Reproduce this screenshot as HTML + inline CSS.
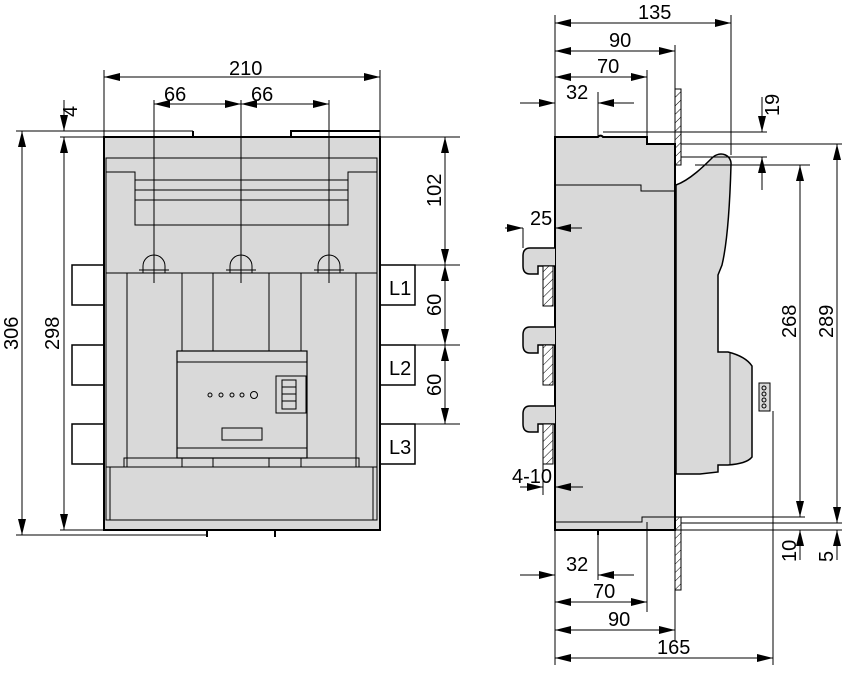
<!DOCTYPE html>
<html><head><meta charset="utf-8"><style>
html,body{margin:0;padding:0;background:#fff;}
svg{display:block;}
text{font-family:"Liberation Sans Narrow","Liberation Sans",sans-serif;font-size:20px;fill:#000;}
</style></head><body>
<svg width="850" height="673" viewBox="0 0 850 673" xmlns="http://www.w3.org/2000/svg">
<defs>
<marker id="a" viewBox="0 0 16 8" refX="16" refY="4" markerWidth="16" markerHeight="8" markerUnits="userSpaceOnUse" orient="auto-start-reverse"><path d="M0,0L16,4L0,8z" fill="#000"/></marker>
<pattern id="h" width="6" height="6" patternUnits="userSpaceOnUse" patternTransform="rotate(45)"><rect width="6" height="6" fill="#fff"/><line x1="0" y1="0" x2="0" y2="6" stroke="#000" stroke-width="1"/></pattern>
</defs>
<g stroke="#000" stroke-width="1" fill="none">
<rect x="72" y="265" width="32" height="40" fill="#fff" stroke-width="1.5"/>
<rect x="72" y="345" width="32" height="40" fill="#fff" stroke-width="1.5"/>
<rect x="72" y="424" width="32" height="40" fill="#fff" stroke-width="1.5"/>
<rect x="380" y="265" width="35" height="40" fill="#fff" stroke-width="1.5"/>
<rect x="380" y="345" width="35" height="40" fill="#fff" stroke-width="1.5"/>
<rect x="380" y="424" width="35" height="40" fill="#fff" stroke-width="1.5"/>
<rect x="104" y="137" width="276" height="393" fill="#d9d9d9" stroke-width="2"/>
<path d="M106,158H377V273H106z"/>
<path d="M106,172H135V225H348V172H377"/>
<path d="M135,180H348M135,190H348M135,200H348"/>
<path d="M106,273V467H377V273"/>
<path d="M127,273V467M182,273V351M213,273V351M269,273V351M301,273V351M356,273V467"/>
<path d="M124,467V458H182V467M213,467V458H269V467M301,467V458H359V467"/>
<path d="M106,467V520H377V467M110,467V520M373,467V520"/>
<rect x="177" y="351" width="130" height="107" fill="#d9d9d9" stroke-width="1.2"/>
<path d="M177,362H307M177,448H307"/>
<rect x="276" y="376" width="30" height="37"/>
<rect x="282" y="380" width="14" height="29"/>
<path d="M282,387H296M282,394H296M282,401H296"/>
<circle cx="210" cy="395" r="2"/><circle cx="221" cy="395" r="2"/><circle cx="232" cy="395" r="2"/><circle cx="242" cy="395" r="2"/><circle cx="254" cy="395" r="3.5"/>
<rect x="222" y="428" width="40" height="12"/>
<path d="M143,273V266A11,11 0 0 1 165,266V273M139,270H169"/>
<path d="M230,273V266A11,11 0 0 1 252,266V273M226,270H256"/>
<path d="M318,273V266A11,11 0 0 1 340,266V273M314,270H344"/>
<path d="M193,137V131M291,137V131H380" stroke-width="2"/>
<path d="M207,530V537M275,530V537" stroke-width="2"/>
<path d="M104,137V70M380,137V70"/>
<line x1="104" y1="77" x2="380" y2="77" marker-start="url(#a)" marker-end="url(#a)"/>
<path d="M154,100V283M241,100V283M329,100V283"/>
<line x1="154" y1="104" x2="241" y2="104" marker-start="url(#a)" marker-end="url(#a)"/>
<line x1="241" y1="104" x2="329" y2="104" marker-start="url(#a)" marker-end="url(#a)"/>
<path d="M16,131H193M60,137H104M16,535H207M60,530H104"/>
<line x1="22" y1="131" x2="22" y2="535" marker-start="url(#a)" marker-end="url(#a)"/>
<line x1="64" y1="137" x2="64" y2="530" marker-start="url(#a)" marker-end="url(#a)"/>
<line x1="64" y1="100" x2="64" y2="131" marker-end="url(#a)"/>
<path d="M380,137H460M415,265H460M415,345H460M415,424H460"/>
<line x1="445" y1="137" x2="445" y2="265" marker-start="url(#a)" marker-end="url(#a)"/>
<line x1="445" y1="265" x2="445" y2="345" marker-start="url(#a)" marker-end="url(#a)"/>
<line x1="445" y1="345" x2="445" y2="424" marker-start="url(#a)" marker-end="url(#a)"/>

<rect x="675" y="89" width="6" height="76" fill="url(#h)"/>
<rect x="675" y="517" width="6" height="73" fill="url(#h)"/>
<path d="M681,89V165M681,517V590"/>
<path d="M676,185C690,180 705,165 712,158C720,150 732,155 731,165C730,200 728,240 722,265L718,275V352H728C740,355 748,360 752,366V457C748,462 740,464 728,465H718V472L700,474H676z" fill="#d9d9d9" stroke-width="1.5"/>
<path d="M730,352V465M752,366V457"/>
<rect x="759" y="383" width="11" height="28" fill="#d9d9d9"/>
<circle cx="764" cy="388" r="2"/><circle cx="764" cy="394" r="2"/><circle cx="764" cy="400" r="2"/><circle cx="764" cy="406" r="2"/>
<path d="M555,137H598A3,3 0 0 1 603,137H647V144H675V530H555z" fill="#d9d9d9" stroke-width="2"/>
<path d="M555,185H641V191H675M555,522H642V517H675"/>
<path d="M598,530V535" stroke-width="2"/>
<g fill="#d9d9d9" stroke-width="1.5">
<path d="M555,248H530Q523,248 523,256V266Q523,274 530,274H538V266H555"/>
<path d="M555,327H530Q523,327 523,335V345Q523,353 530,353H538V345H555"/>
<path d="M555,406H530Q523,406 523,414V424Q523,432 530,432H538V424H555"/>
</g>
<rect x="543" y="266" width="10" height="40" fill="url(#h)"/>
<rect x="543" y="345" width="10" height="40" fill="url(#h)"/>
<rect x="543" y="424" width="10" height="40" fill="url(#h)"/>
<path d="M555,137V15M731,155V15M675,89V45M647,137V70M598,137V92"/>
<line x1="555" y1="23" x2="731" y2="23" marker-start="url(#a)" marker-end="url(#a)"/>
<line x1="555" y1="51" x2="675" y2="51" marker-start="url(#a)" marker-end="url(#a)"/>
<line x1="555" y1="77" x2="647" y2="77" marker-start="url(#a)" marker-end="url(#a)"/>
<line x1="520" y1="103" x2="555" y2="103" marker-end="url(#a)"/>
<line x1="634" y1="103" x2="598" y2="103" marker-end="url(#a)"/>
<path d="M603,132H767M681,144H842M681,157H767M695,165H810"/>
<line x1="762" y1="97" x2="762" y2="132" marker-end="url(#a)"/>
<line x1="762" y1="190" x2="762" y2="157" marker-end="url(#a)"/>
<line x1="800" y1="165" x2="800" y2="517" marker-start="url(#a)" marker-end="url(#a)"/>
<line x1="837" y1="144" x2="837" y2="523" marker-start="url(#a)" marker-end="url(#a)"/>
<path d="M681,517H805M681,523H842M555,530H842"/>
<line x1="800" y1="560" x2="800" y2="530" marker-end="url(#a)"/>
<line x1="837" y1="560" x2="837" y2="530" marker-end="url(#a)"/>
<line x1="505" y1="228" x2="523" y2="228" marker-end="url(#a)"/>
<line x1="582" y1="228" x2="555" y2="228" marker-end="url(#a)"/>
<path d="M523,228V248"/>
<line x1="520" y1="487" x2="543" y2="487" marker-end="url(#a)"/>
<line x1="583" y1="487" x2="555" y2="487" marker-end="url(#a)"/>
<path d="M543,464V495M555,530V665M598,535V580M647,522V612M675,590V640M773,411V665"/>
<line x1="520" y1="575" x2="555" y2="575" marker-end="url(#a)"/>
<line x1="634" y1="575" x2="598" y2="575" marker-end="url(#a)"/>
<line x1="555" y1="602" x2="647" y2="602" marker-start="url(#a)" marker-end="url(#a)"/>
<line x1="555" y1="630" x2="675" y2="630" marker-start="url(#a)" marker-end="url(#a)"/>
<line x1="555" y1="658" x2="773" y2="658" marker-start="url(#a)" marker-end="url(#a)"/>
</g>
<text x="229" y="75">210</text>
<text x="164" y="101">66</text>
<text x="251" y="101">66</text>
<text x="389" y="295">L1</text>
<text x="389" y="375">L2</text>
<text x="389" y="454">L3</text>
<text transform="translate(441,207) rotate(-90)">102</text>
<text transform="translate(441,316) rotate(-90)">60</text>
<text transform="translate(441,396) rotate(-90)">60</text>
<text transform="translate(18,350) rotate(-90)">306</text>
<text transform="translate(59,350) rotate(-90)">298</text>
<text transform="translate(77,117) rotate(-90)">4</text>
<text x="638" y="19">135</text>
<text x="609" y="47">90</text>
<text x="597" y="73">70</text>
<text x="566" y="99">32</text>
<text transform="translate(779,116) rotate(-90)">19</text>
<text x="530" y="225">25</text>
<text x="512" y="483">4-10</text>
<text transform="translate(796,338) rotate(-90)">268</text>
<text transform="translate(833,338) rotate(-90)">289</text>
<text transform="translate(796,562) rotate(-90)">10</text>
<text transform="translate(833,562) rotate(-90)">5</text>
<text x="566" y="571">32</text>
<text x="593" y="598">70</text>
<text x="608" y="626">90</text>
<text x="657" y="654">165</text>
</svg>
</body></html>
